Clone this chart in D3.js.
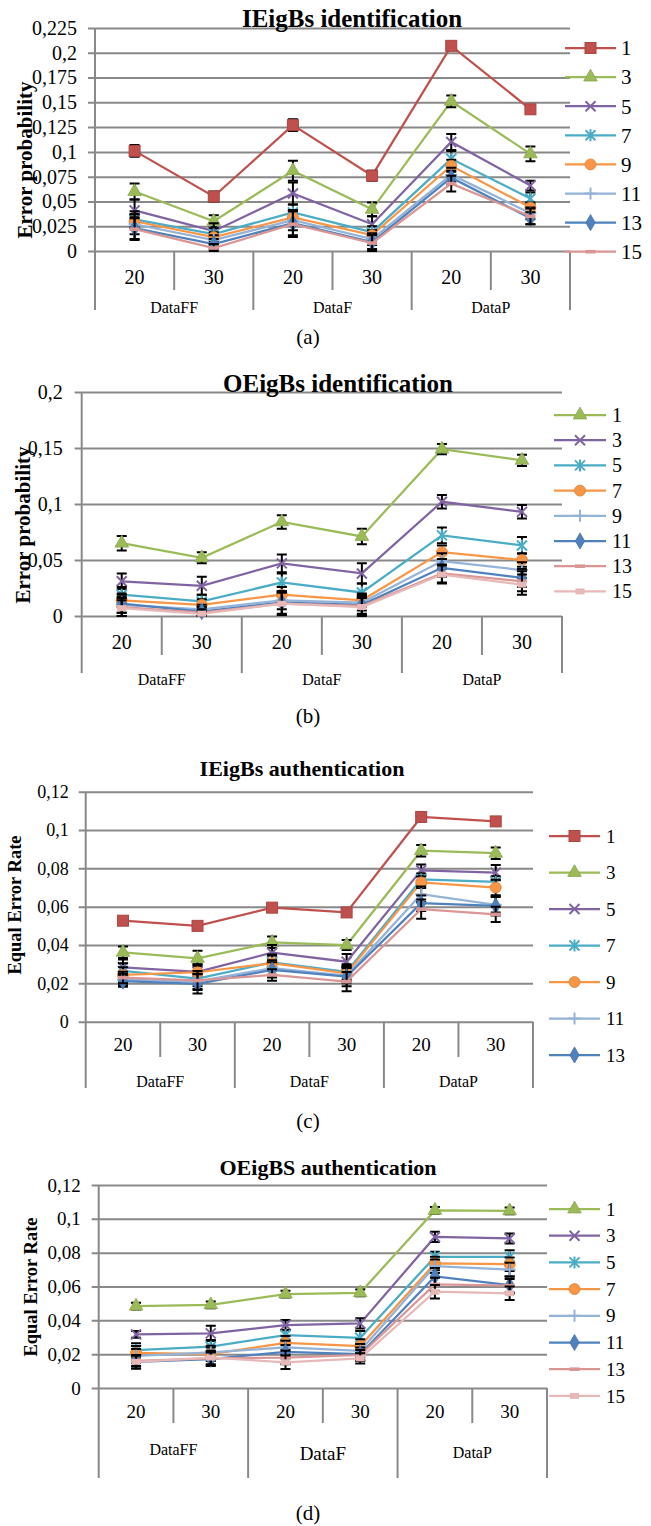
<!DOCTYPE html>
<html>
<head>
<meta charset="utf-8">
<style>
  body { margin: 0; background: #fff; }
  text { font-family: "Liberation Serif", "Times New Roman", serif; fill: #000; }
</style>
</head>
<body>
<svg id="fig" width="651" height="1526"></svg>
<script src="https://cdn.jsdelivr.net/npm/d3@7"></script>
<script>
//-----------------------------------------------------
//              CATEGORIES (shared by all 4 charts)
//-----------------------------------------------------
var cats = ["DataFF-20", "DataFF-30", "DataF-20", "DataF-30", "DataP-20", "DataP-30"];
var catLabels = ["20", "30", "20", "30", "20", "30"];
var groups = ["DataFF", "DataF", "DataP"];

//-----------------------------------------------------
//              (a) IEigBs identification
//-----------------------------------------------------
var aNames = ["1", "3", "5", "7", "9", "11", "13", "15"];
var aTicks = [0, 0.025, 0.05, 0.075, 0.1, 0.125, 0.15, 0.175, 0.2, 0.225];
var aTickLabels = ["0", "0,025", "0,05", "0,075", "0,1", "0,125", "0,15", "0,175", "0,2", "0,225"];
var aVals = [
  [0.101, 0.055, 0.127, 0.076, 0.207, 0.143],
  [0.060, 0.030, 0.081, 0.042, 0.151, 0.098],
  [0.041, 0.020, 0.058, 0.027, 0.110, 0.066],
  [0.032, 0.017, 0.039, 0.019, 0.093, 0.053],
  [0.030, 0.014, 0.034, 0.016, 0.086, 0.044],
  [0.027, 0.011, 0.031, 0.012, 0.077, 0.038],
  [0.023, 0.007, 0.028, 0.009, 0.074, 0.033],
  [0.022, 0.003, 0.027, 0.008, 0.068, 0.035]
];
var aErr = [
  [0.006, 0.005, 0.006, 0.005, 0.003, 0.004],
  [0.008, 0.006, 0.010, 0.007, 0.006, 0.0075],
  [0.011, 0.008, 0.011, 0.008, 0.008, 0.005],
  [0.008, 0.006, 0.008, 0.006, 0.008, 0.006],
  [0.007, 0.005, 0.007, 0.005, 0.006, 0.005],
  [0.010, 0.005, 0.010, 0.006, 0.007, 0.006],
  [0.011, 0.005, 0.012, 0.007, 0.007, 0.006],
  [0.011, 0.004, 0.013, 0.009, 0.008, 0.008]
];

//-----------------------------------------------------
//              (b) OEigBs identification
//-----------------------------------------------------
var bNames = ["1", "3", "5", "7", "9", "11", "13", "15"];
var bTicks = [0, 0.05, 0.1, 0.15, 0.2];
var bTickLabels = ["0", "0,05", "0,1", "0,15", "0,2"];
var bVals = [
  [0.065, 0.052, 0.084, 0.071, 0.149, 0.139],
  [0.031, 0.027, 0.047, 0.038, 0.102, 0.093],
  [0.019, 0.013, 0.030, 0.021, 0.072, 0.063],
  [0.014, 0.010, 0.019, 0.014, 0.057, 0.050],
  [0.010, 0.006, 0.014, 0.012, 0.049, 0.041],
  [0.011, 0.004, 0.012, 0.010, 0.043, 0.034],
  [0.008, 0.003, 0.011, 0.009, 0.038, 0.031],
  [0.007, 0.002, 0.011, 0.008, 0.037, 0.028]
];
var bErr = [
  [0.0065, 0.005, 0.006, 0.007, 0.0045, 0.005],
  [0.007, 0.008, 0.008, 0.009, 0.006, 0.006],
  [0.007, 0.006, 0.008, 0.008, 0.007, 0.0075],
  [0.006, 0.005, 0.007, 0.006, 0.006, 0.006],
  [0.007, 0.004, 0.008, 0.007, 0.007, 0.007],
  [0.008, 0.004, 0.010, 0.008, 0.008, 0.008],
  [0.008, 0.003, 0.010, 0.008, 0.008, 0.009],
  [0.007, 0.002, 0.010, 0.008, 0.008, 0.009]
];

//-----------------------------------------------------
//              (c) IEigBs authentication
//-----------------------------------------------------
var cNames = ["1", "3", "5", "7", "9", "11", "13"];   // "15" is cut off in the legend
var cTicks = [0, 0.02, 0.04, 0.06, 0.08, 0.1, 0.12];
var cTickLabels = ["0", "0,02", "0,04", "0,06", "0,08", "0,1", "0,12"];
var cVals = [
  [0.0527, 0.050, 0.0595, 0.057, 0.1068, 0.1045],
  [0.0362, 0.033, 0.0414, 0.040, 0.0892, 0.0879],
  [0.0284, 0.026, 0.036, 0.0313, 0.079, 0.0778],
  [0.0265, 0.0225, 0.031, 0.026, 0.0743, 0.0729],
  [0.0244, 0.0258, 0.0306, 0.0252, 0.0727, 0.070],
  [0.022, 0.021, 0.028, 0.024, 0.0665, 0.061],
  [0.0212, 0.0197, 0.027, 0.0235, 0.0618, 0.0604],
  [0.023, 0.0215, 0.0244, 0.0209, 0.0587, 0.056]
];
var cErr = [
  [0.002, 0.002, 0.0015, 0.002, 0.0015, 0.002],
  [0.003, 0.004, 0.003, 0.0026, 0.003, 0.003],
  [0.004, 0.004, 0.004, 0.004, 0.003, 0.004],
  [0.004, 0.004, 0.004, 0.004, 0.003, 0.003],
  [0.004, 0.004, 0.004, 0.004, 0.003, 0.004],
  [0.003, 0.004, 0.004, 0.004, 0.004, 0.004],
  [0.003, 0.005, 0.004, 0.005, 0.004, 0.005],
  [0.003, 0.005, 0.003, 0.005, 0.005, 0.004]
];

//-----------------------------------------------------
//              (d) OEigBS authentication
//-----------------------------------------------------
var dNames = ["1", "3", "5", "7", "9", "11", "13", "15"];
var dTicks = [0, 0.02, 0.04, 0.06, 0.08, 0.1, 0.12];
var dTickLabels = ["0", "0,02", "0,04", "0,06", "0,08", "0,1", "0,12"];
var dVals = [
  [0.0484, 0.0492, 0.0555, 0.0563, 0.105, 0.1047],
  [0.0317, 0.0323, 0.0372, 0.0382, 0.0893, 0.0884],
  [0.0224, 0.0244, 0.0313, 0.0297, 0.0775, 0.0775],
  [0.0208, 0.020, 0.0267, 0.0248, 0.0736, 0.0732],
  [0.019, 0.021, 0.024, 0.022, 0.072, 0.070],
  [0.0155, 0.017, 0.0214, 0.020, 0.066, 0.0608],
  [0.016, 0.0175, 0.018, 0.0195, 0.0612, 0.0605],
  [0.0155, 0.018, 0.0152, 0.0175, 0.0569, 0.056]
];
var dErr = [
  [0.002, 0.002, 0.002, 0.002, 0.002, 0.002],
  [0.002, 0.0045, 0.003, 0.003, 0.003, 0.003],
  [0.004, 0.004, 0.003, 0.004, 0.003, 0.004],
  [0.004, 0.004, 0.004, 0.004, 0.004, 0.004],
  [0.004, 0.004, 0.004, 0.004, 0.004, 0.004],
  [0.004, 0.004, 0.004, 0.004, 0.005, 0.005],
  [0.003, 0.004, 0.004, 0.003, 0.004, 0.004],
  [0.004, 0.004, 0.004, 0.003, 0.004, 0.004]
];

//-----------------------------------------------------
//              SERIES STYLES (excel-like)
//-----------------------------------------------------
var styles = {
  red:    {color: "#C0504D", mark: "square"},
  green:  {color: "#9BBB59", mark: "triangle"},
  purple: {color: "#8064A2", mark: "cross"},
  cyan:   {color: "#4BACC6", mark: "star"},
  orange: {color: "#F79646", mark: "circle"},
  ltblue: {color: "#95B3D7", mark: "plus"},
  blue:   {color: "#4F81BD", mark: "diamond"},
  pink:   {color: "#D99694", mark: "dash"},
  ltpink: {color: "#E6B9B8", mark: "smallsq"}
};
var styleA = ["red", "green", "purple", "cyan", "orange", "ltblue", "blue", "pink"];
var styleB = ["green", "purple", "cyan", "orange", "ltblue", "blue", "pink", "ltpink"];

var GRID = "#898989";
var svg = d3.select("#fig");
svg.append("rect").attr("width", 651).attr("height", 1526).attr("fill", "#fff");

function drawMark(g, mark, color) {
  var dark = d3.color(color).darker(0.35);
  if (mark == "square") {
    g.append("rect").attr("x", -5.5).attr("y", -5.5).attr("width", 11).attr("height", 11)
      .attr("fill", color).attr("stroke", dark).attr("stroke-width", 1);
  } else if (mark == "triangle") {
    g.append("path").attr("d", d3.symbol(d3.symbolTriangle, 80)())
      .attr("fill", color).attr("stroke", dark).attr("stroke-width", 0.8);
  } else if (mark == "cross") {
    g.append("path").attr("d", "M-5,-5L5,5M-5,5L5,-5")
      .attr("stroke", color).attr("stroke-width", 2).attr("fill", "none");
  } else if (mark == "star") {
    g.append("path").attr("d", "M-5,-5L5,5M-5,5L5,-5M0,-6L0,6")
      .attr("stroke", color).attr("stroke-width", 2).attr("fill", "none");
  } else if (mark == "circle") {
    g.append("circle").attr("r", 5.5).attr("fill", color).attr("stroke", dark).attr("stroke-width", 0.8);
  } else if (mark == "plus") {
    g.append("path").attr("d", "M-6,0L6,0M0,-6L0,6")
      .attr("stroke", color).attr("stroke-width", 2).attr("fill", "none");
  } else if (mark == "diamond") {
    g.append("path").attr("d", d3.symbol(d3.symbolDiamond, 75)())
      .attr("fill", color).attr("stroke", dark).attr("stroke-width", 0.8);
  } else if (mark == "dash") {
    g.append("rect").attr("x", -5).attr("y", -1.8).attr("width", 10).attr("height", 3.6).attr("fill", color);
  } else if (mark == "smallsq") {
    g.append("rect").attr("x", -4.5).attr("y", -3).attr("width", 9).attr("height", 6).attr("fill", color);
  }
}

//-----------------------------------------------------
//              ONE PANEL
//-----------------------------------------------------
function drawPanel(p) {
  var g = svg.append("g");
  var x = d3.scaleBand().domain(cats).range([p.x0, p.x1]);
  var xg = d3.scaleBand().domain(groups).range([p.x0, p.x1]);
  var y = d3.scaleLinear().domain([0, p.ticks[p.ticks.length - 1]]).range([p.yZero, p.yTop]);
  var cx = function(i) { return x(cats[i]) + x.bandwidth() / 2; };

  // gridlines + tick labels
  var ya = g.append("g")
      .attr("transform", "translate(" + p.x0 + ",0)")
      .call(d3.axisLeft(y).tickValues(p.ticks).tickSize(-(p.x1 - p.x0)).tickPadding(p.tickPad)
        .tickFormat(function(d, i) { return p.tickLabels[i]; }));
  ya.select(".domain").remove();
  ya.selectAll(".tick line").attr("x1", -7).attr("stroke", GRID).attr("stroke-width", 2);
  ya.selectAll(".tick text")
      .attr("font-family", "Liberation Serif, serif")
      .attr("font-size", p.tickFont).attr("fill", "#000");

  // category labels
  var xa = g.append("g")
      .attr("transform", "translate(0," + p.yZero + ")")
      .call(d3.axisBottom(x).tickSize(0).tickFormat(function(d, i) { return catLabels[i]; }));
  xa.select(".domain").remove();
  xa.selectAll(".tick text")
      .attr("y", p.catBase - p.yZero).attr("dy", null)
      .attr("font-family", "Liberation Serif, serif")
      .attr("font-size", p.catFont).attr("fill", "#000");

  // vertical separators (short inside a group, long between groups)
  var edges = cats.map(function(c) { return x(c); }).concat([p.x1]);
  g.selectAll(".sep").data(edges).enter().append("line")
      .attr("x1", function(d) { return d; }).attr("x2", function(d) { return d; })
      .attr("y1", function(d, i) { return i == 0 ? p.yTop : p.yZero; })
      .attr("y2", function(d, i) { return i % 2 == 0 ? p.groupBottom : p.innerBottom; })
      .attr("stroke", GRID).attr("stroke-width", 2);

  // group labels
  g.selectAll(".grp").data(groups).enter().append("text")
      .attr("x", function(d) { return xg(d) + xg.bandwidth() / 2; })
      .attr("y", function(d, i) { return p.groupBase[i]; })
      .attr("text-anchor", "middle")
      .attr("font-size", function(d, i) { return p.groupFont[i]; })
      .text(function(d) { return d; });

  // series: line, error bars, markers
  var line = d3.line().x(function(d, i) { return cx(i); }).y(function(d) { return y(d); });
  p.vals.forEach(function(vals, s) {
    var st = styles[p.styles[s]];
    var errs = p.errs[s];
    var sg = g.append("g");
    sg.append("path").datum(vals).attr("d", line)
        .attr("fill", "none").attr("stroke", st.color).attr("stroke-width", 2.25);
    sg.selectAll(".eb").data(vals).enter().append("path")
        .attr("d", function(v, i) {
          var t = y(v + errs[i]), b = y(Math.max(0, v - errs[i])), c = cx(i);
          return "M" + (c - 5) + "," + t + "H" + (c + 5) + "M" + c + "," + t + "V" + b +
                 "M" + (c - 5) + "," + b + "H" + (c + 5);
        })
        .attr("fill", "none").attr("stroke", "#000").attr("stroke-width", 2);
    sg.selectAll(".mk").data(vals).enter().append("g")
        .attr("transform", function(v, i) { return "translate(" + cx(i) + "," + y(v) + ")"; })
        .each(function() { drawMark(d3.select(this), st.mark, st.color); });
  });

  // legend
  p.names.forEach(function(n, i) {
    var st = styles[p.styles[i]];
    var ly = p.legY + i * p.legStep;
    g.append("line").attr("x1", p.legX1).attr("x2", p.legX2).attr("y1", ly).attr("y2", ly)
        .attr("stroke", st.color).attr("stroke-width", 2.25);
    drawMark(g.append("g").attr("transform", "translate(" + (p.legX1 + p.legX2) / 2 + "," + ly + ")"),
             st.mark, st.color);
    g.append("text").attr("x", p.legTextX).attr("y", ly).attr("dy", "0.35em")
        .attr("font-size", p.legFont).text(n);
  });

  // titles and caption
  g.append("text").attr("x", p.titleX).attr("y", p.titleBase)
      .attr("text-anchor", "middle").attr("font-weight", "bold").attr("font-size", p.titleFont)
      .text(p.title);
  g.append("text")
      .attr("transform", "translate(" + p.ylabX + "," + p.ylabY + ") rotate(-90)")
      .attr("text-anchor", "middle").attr("dy", "0.35em")
      .attr("font-weight", "bold").attr("font-size", p.ylabFont)
      .text(p.ylab);
  g.append("text").attr("x", 308).attr("y", p.capBase)
      .attr("text-anchor", "middle").attr("font-size", 21).text(p.caption);
}

drawPanel({
  names: aNames, vals: aVals, errs: aErr, styles: styleA, ticks: aTicks, tickLabels: aTickLabels,
  x0: 95, x1: 570, yTop: 28, yZero: 251, tickFont: 20, tickPad: 18,
  catBase: 284, catFont: 20, innerBottom: 290, groupBottom: 310,
  groupBase: [313, 313, 313], groupFont: [16, 16, 16],
  legX1: 565, legX2: 616, legTextX: 621, legY: 48, legStep: 29.1, legFont: 21,
  title: "IEigBs identification", titleX: 352, titleBase: 27, titleFont: 25,
  ylab: "Error probability", ylabX: 25, ylabY: 160, ylabFont: 21,
  caption: "(a)", capBase: 344
});

drawPanel({
  names: bNames, vals: bVals, errs: bErr, styles: styleB, ticks: bTicks, tickLabels: bTickLabels,
  x0: 81.7, x1: 562, yTop: 392, yZero: 616, tickFont: 20, tickPad: 19,
  catBase: 649, catFont: 20, innerBottom: 655, groupBottom: 673,
  groupBase: [685, 685, 685], groupFont: [16, 16, 16],
  legX1: 554, legX2: 606, legTextX: 612, legY: 415, legStep: 25.2, legFont: 20,
  title: "OEigBs identification", titleX: 338, titleBase: 392, titleFont: 25,
  ylab: "Error probability", ylabX: 23, ylabY: 525, ylabFont: 21,
  caption: "(b)", capBase: 723
});

drawPanel({
  names: cNames, vals: cVals, errs: cErr, styles: styleA, ticks: cTicks, tickLabels: cTickLabels,
  x0: 85.7, x1: 533, yTop: 791.7, yZero: 1021.7, tickFont: 18, tickPad: 17,
  catBase: 1051, catFont: 19, innerBottom: 1057, groupBottom: 1088,
  groupBase: [1087, 1087, 1087], groupFont: [16, 16, 16],
  legX1: 549, legX2: 600, legTextX: 606, legY: 836, legStep: 36.5, legFont: 19,
  title: "IEigBs authentication", titleX: 302, titleBase: 776, titleFont: 22,
  ylab: "Equal Error Rate", ylabX: 15, ylabY: 905, ylabFont: 18.5,
  caption: "(c)", capBase: 1128
});

drawPanel({
  names: dNames, vals: dVals, errs: dErr, styles: styleB, ticks: dTicks, tickLabels: dTickLabels,
  x0: 98.7, x1: 547, yTop: 1185, yZero: 1388, tickFont: 19, tickPad: 18,
  catBase: 1418, catFont: 19, innerBottom: 1423, groupBottom: 1478,
  groupBase: [1455, 1460, 1458], groupFont: [16, 19, 16],
  legX1: 549, legX2: 600, legTextX: 606, legY: 1209, legStep: 26.7, legFont: 19,
  title: "OEigBS authentication", titleX: 328, titleBase: 1175, titleFont: 22,
  ylab: "Equal Error Rate", ylabX: 31, ylabY: 1287, ylabFont: 18.5,
  caption: "(d)", capBase: 1520
});
</script>
</body>
</html>
